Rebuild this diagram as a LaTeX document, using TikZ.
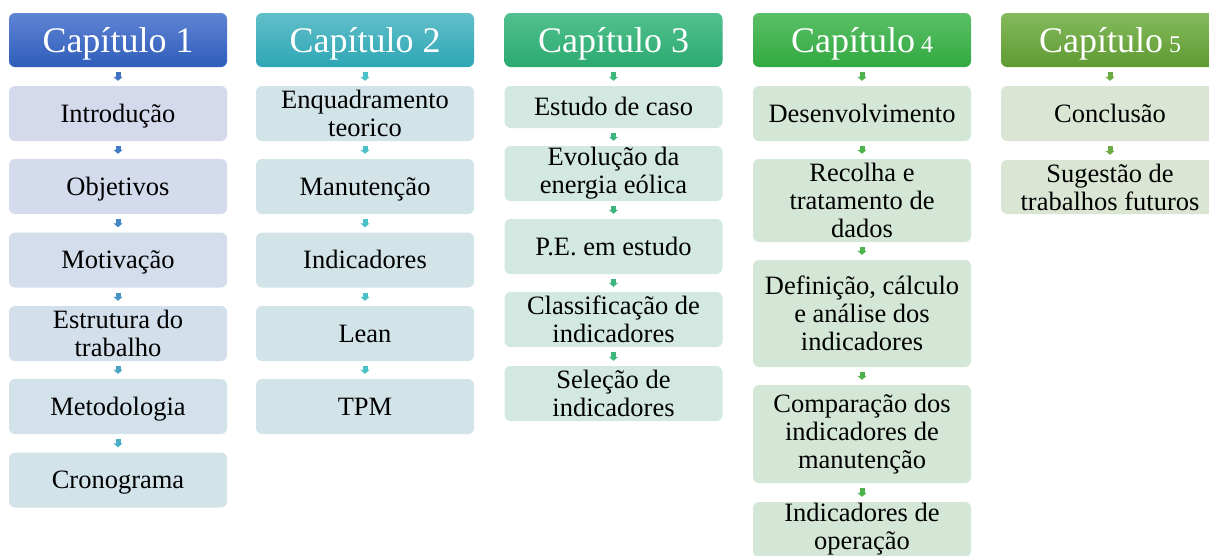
\documentclass[tikz,border=0pt]{standalone}
\usepackage{fontspec}
\setmainfont{Liberation Serif}
\usetikzlibrary{arrows.meta}

% header colours (top / bottom)
\definecolor{hdOneT}{RGB}{95,132,212}
\definecolor{hdOneB}{RGB}{47,93,186}
\definecolor{hdTwoT}{RGB}{98,191,201}
\definecolor{hdTwoB}{RGB}{45,166,181}
\definecolor{hdThreeT}{RGB}{82,192,142}
\definecolor{hdThreeB}{RGB}{43,170,112}
\definecolor{hdFourT}{RGB}{90,191,102}
\definecolor{hdFourB}{RGB}{50,169,64}
\definecolor{hdFiveT}{RGB}{132,186,92}
\definecolor{hdFiveB}{RGB}{95,154,49}
% box colours
\definecolor{bxOneA}{RGB}{212,217,236}
\definecolor{bxOneB}{RGB}{210,227,234}
\definecolor{bxTwo}{RGB}{210,228,232}
\definecolor{bxThree}{RGB}{210,232,224}
\definecolor{bxFour}{RGB}{212,230,214}
\definecolor{bxFive}{RGB}{218,230,211}
% arrow colours
\definecolor{arOneA}{RGB}{66,112,196}
\definecolor{arOneB}{RGB}{74,176,200}
\definecolor{arTwo}{RGB}{74,192,200}
\definecolor{arThree}{RGB}{60,182,124}
\definecolor{arFour}{RGB}{76,178,76}
\definecolor{arFive}{RGB}{108,170,66}

\tikzset{
  linebox/.style={execute at begin node={\rule{0pt}{.89em}},
    execute at end node={\rule[-.22em]{0pt}{0pt}}},
  chead/.style={rounded corners=6pt, minimum width=218pt, minimum height=54pt,
    inner sep=0pt, text=white, font=\fontsize{36}{36}\selectfont, linebox},
  cbox/.style={rounded corners=6pt, minimum width=218pt, minimum height=55pt,
    inner sep=0pt, align=center, font=\fontsize{26.5}{28}\selectfont},
  cline/.style={cbox, linebox},
  flow/.style={line width=5pt, -{Triangle[width=9pt,length=4pt]},
    shorten <=5pt, shorten >=5pt},
}

\begin{document}
\begin{tikzpicture}[x=1pt,y=-1pt]
  \clip (0,0) rectangle (1209,555);

  % headers
  \node[chead, top color=hdOneT, bottom color=hdOneB] (h1) at (118,40) {Capítulo 1};
  \node[chead, top color=hdTwoT, bottom color=hdTwoB] (h2) at (365,40) {Capítulo 2};
  \node[chead, top color=hdThreeT, bottom color=hdThreeB] (h3) at (613.5,40) {Capítulo 3};
  \node[chead, top color=hdFourT, bottom color=hdFourB] (h4) at (862,40) {Capítulo{\fontsize{24}{24}\selectfont\ 4}};
  \node[chead, top color=hdFiveT, bottom color=hdFiveB] (h5) at (1110,40) {Capítulo{\fontsize{24}{24}\selectfont\ 5}};

  % chapter 1
  \node[cline, fill=bxOneA] (intro) at (118,113.5) {Introdução};
  \node[cline, fill=bxOneA!80!bxOneB] (obj) at (118,186.5) {Objetivos};
  \node[cline, fill=bxOneA!60!bxOneB] (motiv) at (118,260) {Motivação};
  \node[cbox, fill=bxOneA!40!bxOneB] (estr) at (118,333.5) {Estrutura do\\trabalho};
  \node[cline, fill=bxOneA!20!bxOneB] (metod) at (118,406.5) {Metodologia};
  \node[cline, fill=bxOneB] (crono) at (118,480) {Cronograma};

  % chapter 2
  \node[cbox, fill=bxTwo] (enq) at (365,113.5) {Enquadramento\\teorico};
  \node[cline, fill=bxTwo] (manut) at (365,186.5) {Manutenção};
  \node[cline, fill=bxTwo] (indic) at (365,260) {Indicadores};
  \node[cline, fill=bxTwo] (lean) at (365,333.5) {Lean};
  \node[cline, fill=bxTwo] (tpm) at (365,406.5) {TPM};

  % chapter 3
  \node[cline, fill=bxThree, minimum height=42pt] (caso) at (613.5,107) {Estudo de caso};
  \node[cbox, fill=bxThree] (evol) at (613.5,173.5) {Evolução da\\energia eólica};
  \node[cline, fill=bxThree] (pe) at (613.5,246.5) {P.E. em estudo};
  \node[cbox, fill=bxThree] (class) at (613.5,319.5) {Classificação de\\indicadores};
  \node[cbox, fill=bxThree] (selec) at (613.5,393.5) {Seleção de\\indicadores};

  % chapter 4
  \node[cline, fill=bxFour] (desen) at (862,113.5) {Desenvolvimento};
  \node[cbox, fill=bxFour, minimum height=83pt] (recol) at (862,200.5) {Recolha e\\tratamento de\\dados};
  \node[cbox, fill=bxFour, minimum height=107pt] (defin) at (862,313.5) {Definição, cálculo\\e análise dos\\indicadores};
  \node[cbox, fill=bxFour, minimum height=98pt] (compa) at (862,434) {Comparação dos\\indicadores de\\manutenção};
  \node[cbox, fill=bxFour] (oper) at (862,529.5) {Indicadores de\\operação};

  % chapter 5
  \node[cline, fill=bxFive] (concl) at (1110,113.5) {Conclusão};
  \node[cbox, fill=bxFive, minimum height=54pt] (suges) at (1110,187) {Sugestão de\\trabalhos futuros};

  % arrows
  \draw[flow, arOneA] (h1) -- (intro);
  \draw[flow, arOneA!85!arOneB] (intro) -- (obj);
  \draw[flow, arOneA!65!arOneB] (obj) -- (motiv);
  \draw[flow, arOneA!45!arOneB] (motiv) -- (estr);
  \draw[flow, arOneA!20!arOneB] (estr) -- (metod);
  \draw[flow, arOneB] (metod) -- (crono);

  \draw[flow, arTwo] (h2) -- (enq);
  \draw[flow, arTwo] (enq) -- (manut);
  \draw[flow, arTwo] (manut) -- (indic);
  \draw[flow, arTwo] (indic) -- (lean);
  \draw[flow, arTwo] (lean) -- (tpm);

  \draw[flow, arThree] (h3) -- (caso);
  \draw[flow, arThree] (caso) -- (evol);
  \draw[flow, arThree] (evol) -- (pe);
  \draw[flow, arThree] (pe) -- (class);
  \draw[flow, arThree] (class) -- (selec);

  \draw[flow, arFour] (h4) -- (desen);
  \draw[flow, arFour] (desen) -- (recol);
  \draw[flow, arFour] (recol) -- (defin);
  \draw[flow, arFour] (defin) -- (compa);
  \draw[flow, arFour] (compa) -- (oper);

  \draw[flow, arFive] (h5) -- (concl);
  \draw[flow, arFive] (concl) -- (suges);
\end{tikzpicture}
\end{document}
